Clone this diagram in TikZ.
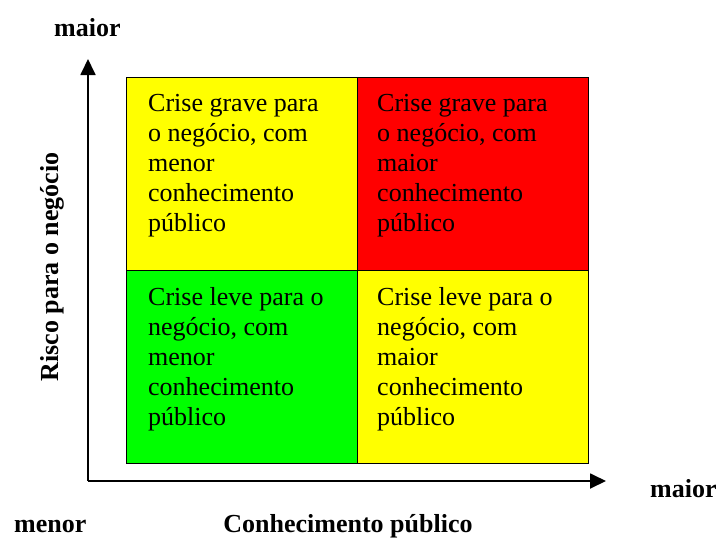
\documentclass[tikz,border=0pt]{standalone}
\usepackage{fontspec}
\setmainfont{Liberation Serif}
\usetikzlibrary{arrows.meta}
\definecolor{cyellow}{RGB}{255,255,0}
\definecolor{cred}{RGB}{255,0,0}
\definecolor{cgreen}{RGB}{0,255,0}
\tikzset{
  cell/.style={draw=black, line width=1.4pt, minimum width=231pt, minimum height=193pt, inner sep=0pt, anchor=north west},
  celltext/.style={align=left, inner sep=0pt, anchor=north west, font=\fontsize{26}{30}\selectfont},
  axislabel/.style={inner sep=0pt, font=\bfseries\fontsize{26}{30}\selectfont},
  axis/.style={line width=1.8pt, -{Triangle[width=15pt,length=16pt]}}
}
\begin{document}
\begin{tikzpicture}[x=1pt,y=-1pt]
\useasboundingbox (0,0) rectangle (719,538);
\node[cell, fill=cyellow] (tl) at (126,77) {};
\node[cell, fill=cred] (tr) at (357,77) {};
\node[cell, fill=cgreen] (bl) at (126,270) {};
\node[cell, fill=cyellow] (br) at (357,270) {};
\node[celltext] (ttl) at (148,94) {Crise grave para\\o negócio, com\\menor\\conhecimento\\público};
\node[celltext] (ttr) at (377,94) {Crise grave para\\o negócio, com\\maior\\conhecimento\\público};
\node[celltext] (tbl) at (148,287) {Crise leve para o\\negócio, com\\menor\\conhecimento\\público};
\node[celltext] (tbr) at (377,287) {Crise leve para o\\negócio, com\\maior\\conhecimento\\público};
\coordinate (origin) at (88,481);
\coordinate (ytip) at (88,59);
\coordinate (xtip) at (606,481);
\draw[axis] (origin) -- (ytip);
\draw[axis] (origin) -- (xtip);
\node[axislabel, anchor=base west] (ymax) at (54,36) {maior};
\node[axislabel, anchor=base west] (xmax) at (650,497) {maior};
\node[axislabel, anchor=base west] (xmin) at (14,532) {menor};
\node[axislabel, anchor=base] (xlab) at (348,532) {Conhecimento público};
\node[axislabel, rotate=90] (ylab) at (52,267) {Risco para o negócio};
\end{tikzpicture}
\end{document}
